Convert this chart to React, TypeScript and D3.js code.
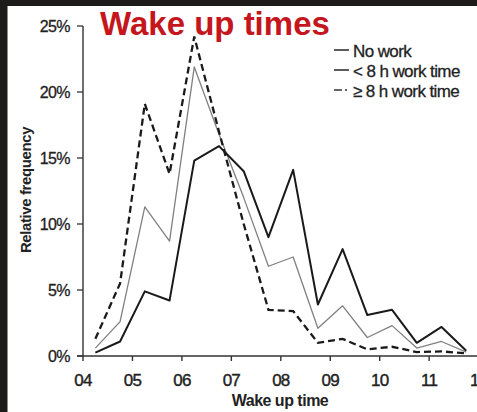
import React from "react";
import * as d3 from "d3";

const times = ["04:15","04:45","05:15","05:45","06:15","06:45","07:15","07:45","08:15","08:45","09:15","09:45","10:15","10:45","11:15","11:45"];
const noWork = [0.25,1.1,4.9,4.2,14.8,15.9,14.0,9.0,14.1,3.9,8.1,3.1,3.5,1.0,2.2,0.4];
const lessThan8h = [0.6,2.6,11.3,8.7,21.9,16.8,12.0,6.8,7.5,2.1,3.8,1.4,2.3,0.6,1.1,0.3];
const atLeast8h = [1.3,5.5,19.1,13.8,24.2,17.0,10.0,3.5,3.4,1.0,1.3,0.5,0.7,0.3,0.35,0.2];
const xTickLabels = ["04","05","06","07","08","09","10","11","12"];
const yTicks = [0,5,10,15,20,25];
const legendLabels = ["No work","< 8 h work time","\u2265 8 h work time"];

const W = 477, H = 412;

export default function App() {
  const x = d3.scaleLinear().domain([4, 12]).range([83, 478.6]);
  const y = d3.scaleLinear().domain([0, 25]).range([356, 26]);
  const hrs = times.map(t => { const [h, m] = t.split(":").map(Number); return h + m / 60; });
  const line = (vals: number[]) => d3.line<number>().x((_, i) => x(hrs[i])).y(v => y(v))(vals) || "";
  const font = "'Liberation Sans', Arial, sans-serif";
  const dark = "#1d1a1a";
  return (
    <svg width={W} height={H} style={{ position: "absolute", left: 0, top: 0, fontFamily: font }}>
      <rect x={0} y={0} width={W} height={H} fill="#fff" />
      <rect x={0} y={0} width={W} height={6} fill={dark} />
      <rect x={0} y={0} width={7.5} height={H} fill={dark} />
      {/* axes */}
      <line x1={x(4)} x2={x(4)} y1={y(25)} y2={y(0)} stroke="#333" strokeWidth={1.4} />
      <line x1={77} x2={W} y1={y(0)} y2={y(0)} stroke="#333" strokeWidth={1.4} />
      {yTicks.map(t => (
        <g key={t}>
          <line x1={77} x2={x(4)} y1={y(t)} y2={y(t)} stroke="#333" strokeWidth={1.3} />
          <text x={70} y={y(t) + 6} textAnchor="end" fontSize={16} fill="#222" stroke="#222" strokeWidth={0.3} letterSpacing={-0.6}>{t}%</text>
        </g>
      ))}
      {xTickLabels.map((l, i) => (
        <g key={l}>
          <line x1={x(4 + i)} x2={x(4 + i)} y1={y(0)} y2={y(0) + 5} stroke="#333" strokeWidth={1.4} />
          <text x={x(4 + i)} y={386} textAnchor="middle" fontSize={17} fill="#222" stroke="#222" strokeWidth={0.4} letterSpacing={-0.8}>{l}</text>
        </g>
      ))}
      <text x={280} y={406} textAnchor="middle" fontSize={16} fontWeight="bold" fill="#222" letterSpacing={-0.5}>Wake up time</text>
      <text transform="translate(31,190) rotate(-90)" textAnchor="middle" fontSize={15} fontWeight="bold" fill="#222" letterSpacing={-0.4}>Relative frequency</text>
      {/* series */}
      <path d={line(lessThan8h)} fill="none" stroke="#808080" strokeWidth={1.3} strokeLinejoin="round" />
      <path d={line(noWork)} fill="none" stroke="#1a1a1a" strokeWidth={2} strokeLinejoin="round" />
      <path d={line(atLeast8h)} fill="none" stroke="#1a1a1a" strokeWidth={2.3} strokeDasharray="7,4" />
      {/* title */}
      <text x={100} y={35} fontSize={33} fontWeight="bold" fill="#c4161c">Wake up times</text>
      {/* legend */}
      {legendLabels.map((l, i) => (
        <g key={l}>
          <line x1={334} x2={349} y1={50 + i * 20} y2={50 + i * 20} stroke="#333" strokeWidth={1.6}
            strokeDasharray={i === 2 ? "8,3,2,20" : undefined} />
          <text x={353} y={57 + i * 20} fontSize={17} fill="#222" stroke="#222" strokeWidth={0.3} letterSpacing={-0.6}>{l}</text>
        </g>
      ))}
    </svg>
  );
}
